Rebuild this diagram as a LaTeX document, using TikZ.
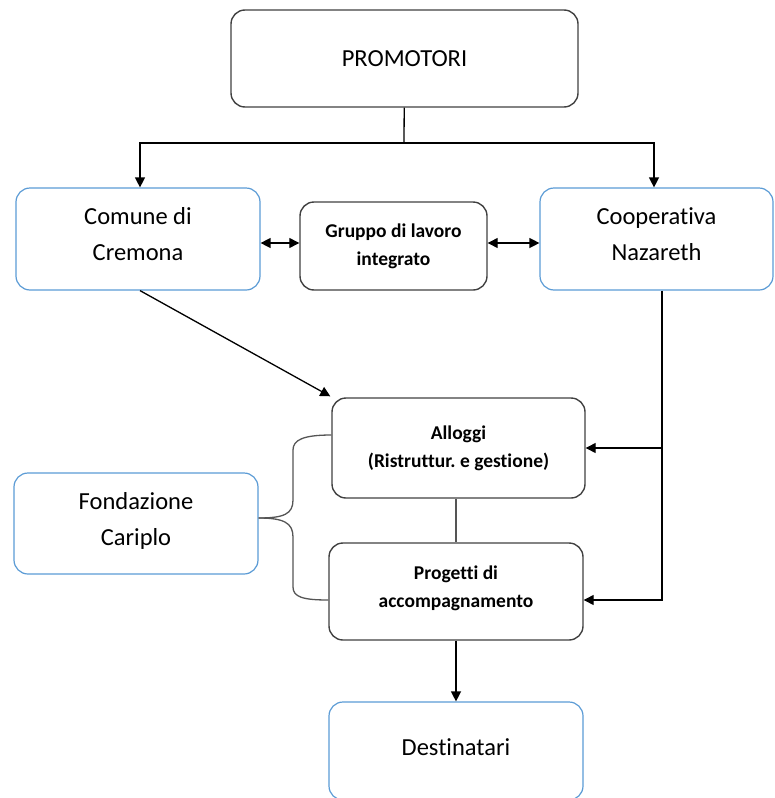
\documentclass[tikz,border=0pt]{standalone}
\usepackage{fontspec}
\setmainfont{Carlito}[Ligatures=NoCommon]
\usetikzlibrary{arrows.meta,positioning}
\definecolor{boxblue}{RGB}{91,155,213}
\definecolor{boxgray}{RGB}{65,65,65}
\definecolor{bracegray}{RGB}{85,85,85}
\tikzset{
	bluebox/.style={draw=boxblue, line width=1.2pt, rounded corners=14pt, align=center, inner sep=0pt, font=\fontsize{24.5}{36}\selectfont},
	graybox/.style={draw=boxgray, line width=1.4pt, rounded corners=14pt, align=center, inner sep=0pt, font=\fontsize{19.5}{28}\selectfont\bfseries},
}
\begin{document}
\begin{tikzpicture}[x=1pt, y=-1pt, line width=1.3pt, >={Triangle[length=10pt,width=10pt]}]
		\useasboundingbox (0,0) rectangle (774,798);
		% Nodes
		\node[graybox, minimum width=347pt, minimum height=97pt, font=\fontsize{24.5}{36}\selectfont] (promotori) at (404.5,58.5) {PROMOTORI};
		\node[bluebox, minimum width=244pt, minimum height=102pt, text depth=10pt] (comune) at (138,239) {Comune di\\Cremona};
		\node[graybox, minimum width=187pt, minimum height=88pt] (gruppo) at (393.5,246) {Gruppo di lavoro\\integrato};
		\node[bluebox, minimum width=233pt, minimum height=102pt, text depth=10pt] (coop) at (656.5,239) {Cooperativa\\Nazareth};
		\node[graybox, minimum width=253pt, minimum height=100pt] (alloggi) at (458.5,448) {Alloggi\\(Ristruttur.\ e gestione)};
		\node[graybox, minimum width=254pt, minimum height=97pt, text depth=10pt] (progetti) at (456,591.5) {Progetti di\\accompagnamento};
		\node[bluebox, minimum width=254pt, minimum height=98pt, text depth=8pt] (destinatari) at (456,751) {Destinatari};
		\node[bluebox, minimum width=244pt, minimum height=101pt, text depth=10pt] (fondazione) at (136,523.5) {Fondazione\\Cariplo};
		\coordinate (split) at (404,143);

		% Arrows
		\draw (promotori) -- (split);
		\draw[->] (split) -| ([xshift=2pt]comune.north);
		\draw[->] (split) -| ([xshift=-2.5pt]coop.north);
		\draw[<->] ([yshift=3pt]gruppo.west -| comune.east) -- ([yshift=3pt]gruppo.west);
		\draw[<->] ([yshift=3pt]gruppo.east) -- ([yshift=3pt]gruppo.east -| coop.west);
		\draw[->] ([xshift=2pt]comune.south) -- ([xshift=-1pt,yshift=1pt]alloggi.north west);
		\draw[->] ([xshift=5.5pt]coop.south) |- ([yshift=-8.5pt]progetti.east);
		\draw[->] ([xshift=5.5pt]coop.south |- alloggi.east) -- (alloggi.east);
		\draw[bracegray, line width=1.5pt] (alloggi.south -| progetti.north) -- (progetti.north);
		\draw[->] (progetti) -- (destinatari);
		\draw[bracegray] ([yshift=5.5pt]fondazione.east) .. controls (284,518) and (293,514) .. (293,500) -- (293,450) .. controls (293,440) and (303,435) .. ([yshift=13pt]alloggi.west);
		\draw[bracegray] ([yshift=5.5pt]fondazione.east) .. controls (284,518) and (293,523) .. (293,537) -- (293,587) .. controls (293,597) and (303,600) .. ([yshift=-8.5pt]progetti.west);
	\end{tikzpicture}
\end{document}
